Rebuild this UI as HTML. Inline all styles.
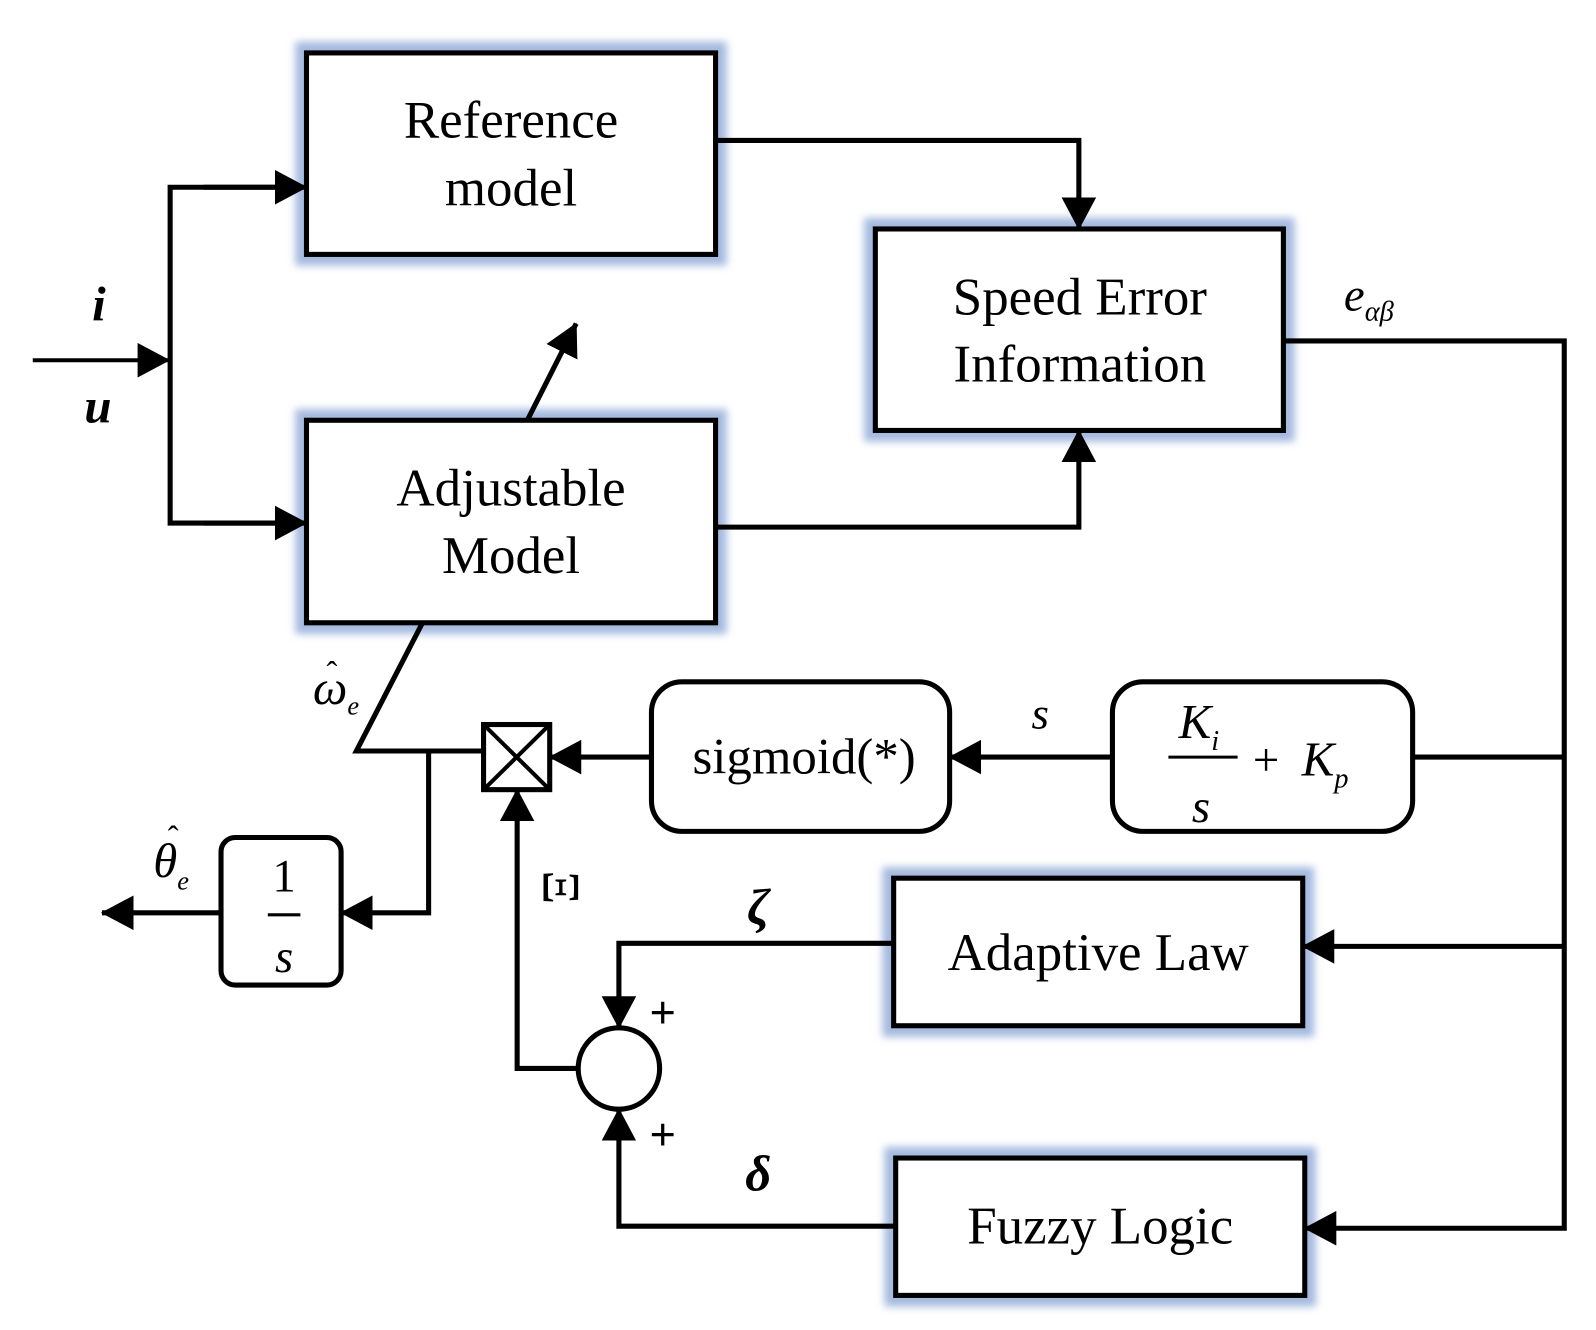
<!DOCTYPE html>
<html><head><style>html,body{margin:0;padding:0;background:#fff}svg{display:block}</style></head>
<body>
<svg width="1596" height="1330" viewBox="0 0 1568 1307" xmlns="http://www.w3.org/2000/svg" style="font-family:'Liberation Serif',serif">
<defs>
<filter id="g" x="-10%" y="-20%" width="120%" height="140%"><feGaussianBlur stdDeviation="4"/></filter>
<marker id="a" markerWidth="32" markerHeight="34" refX="31" refY="17" orient="auto" markerUnits="userSpaceOnUse" viewBox="0 0 32 34"><path d="M0,0 L32,17 L0,34z" fill="#000"/></marker>
</defs>
<g fill="none" stroke="#a4b9df" stroke-width="22" filter="url(#g)">
<rect x="301" y="52" width="402" height="198"/>
<rect x="301" y="413" width="402" height="199"/>
<rect x="860" y="225" width="401" height="198"/>
<rect x="878" y="863" width="402" height="145"/>
<rect x="880" y="1138" width="402" height="135"/>
</g>
<g fill="#fff" stroke="#000" stroke-width="5">
<rect x="301" y="52" width="402" height="198"/>
<rect x="301" y="413" width="402" height="199"/>
<rect x="860" y="225" width="401" height="198"/>
<rect x="878" y="863" width="402" height="145"/>
<rect x="880" y="1138" width="402" height="135"/>
<rect x="640" y="670" width="293" height="147" rx="30"/>
<rect x="1093" y="670" width="295" height="147" rx="30"/>
<rect x="217" y="823" width="118" height="145" rx="14"/>
<rect x="475" y="712" width="65" height="64"/>
<circle cx="608" cy="1050" r="40"/>
</g>
<g stroke="#000" stroke-width="5" fill="none">
<line x1="475" y1="712" x2="540" y2="776" stroke-width="4"/><line x1="540" y1="712" x2="475" y2="776" stroke-width="4"/>
<line x1="32" y1="354" x2="166" y2="354" marker-end="url(#a)" stroke-width="4"/>
<polyline points="280,184 167,184 167,514 280,514"/>
<line x1="200" y1="184" x2="301" y2="184" marker-end="url(#a)"/>
<line x1="200" y1="514" x2="301" y2="514" marker-end="url(#a)"/>
<polyline points="703,138 1060,138 1060,225" marker-end="url(#a)"/>
<polyline points="703,518 1060,518 1060,423" marker-end="url(#a)"/>
<polyline points="1261,335 1537,335 1537,1207 1282,1207" marker-end="url(#a)"/>
<line x1="1537" y1="930" x2="1280" y2="930" marker-end="url(#a)"/>
<line x1="1537" y1="744" x2="1388" y2="744"/>
<line x1="1093" y1="744" x2="933" y2="744" marker-end="url(#a)"/>
<line x1="640" y1="744" x2="540" y2="744" marker-end="url(#a)"/>
<line x1="518" y1="413" x2="566" y2="318" marker-end="url(#a)"/>
<polyline points="415,612 350,738 475,738"/>
<polyline points="421,738 421,897 335,897" marker-end="url(#a)"/>
<line x1="217" y1="897" x2="100" y2="897" marker-end="url(#a)"/>
<polyline points="568,1050 508,1050 508,776" marker-end="url(#a)"/>
<polyline points="880,927 608,927 608,1010" marker-end="url(#a)"/>
<polyline points="880,1205 608,1205 608,1090" marker-end="url(#a)"/>
<line x1="263" y1="899" x2="295" y2="899" stroke-width="3"/>
<line x1="1148" y1="744" x2="1216" y2="744" stroke-width="3"/>
</g>
<g fill="#000" font-size="52" text-anchor="middle">
<text x="502" y="135">Reference</text>
<text x="502" y="202">model</text>
<text x="502" y="497">Adjustable</text>
<text x="502" y="563">Model</text>
<text x="1061" y="309">Speed Error</text>
<text x="1061" y="375">Information</text>
<text x="1079" y="953">Adaptive Law</text>
<text x="1081" y="1222">Fuzzy Logic</text>
<text x="790" y="760" font-size="50">sigmoid(*)</text>
<text x="279" y="876" font-size="46">1</text>
<text x="279" y="955" font-size="46" font-style="italic">s</text>
<text x="1178" y="725" font-size="48" font-style="italic">K<tspan font-size="28" dy="12">i</tspan></text>
<text x="1180" y="808" font-size="46" font-style="italic">s</text>
<text x="1244" y="762" font-size="46">+</text>
<text x="1302" y="762" font-size="48" font-style="italic">K<tspan font-size="28" dy="12">p</tspan></text>
<text x="1022" y="716" font-size="44" font-style="italic">s</text>
<text x="1345" y="305" font-size="46" font-style="italic">e<tspan font-size="28" dy="10">αβ</tspan></text>
<text x="97" y="315" font-size="48" font-style="italic" font-weight="bold">i</text>
<text x="96" y="415" font-size="48" font-style="italic" font-weight="bold">u</text>
<text x="330" y="692" font-size="48" font-style="italic">ω<tspan font-size="26" dy="10">e</tspan></text>
<text x="326" y="672" font-size="32">ˆ</text>
<text x="168" y="862" font-size="48" font-style="italic">θ<tspan font-size="26" dy="12">e</tspan></text>
<text x="170" y="834" font-size="32">ˆ</text>
<text x="745" y="908" font-size="50" font-style="italic" font-weight="bold">ζ</text>
<text x="745" y="1170" font-size="50" font-style="italic" font-weight="bold">δ</text>
<text x="651" y="1010" font-size="46" font-weight="bold">+</text>
<text x="651" y="1130" font-size="46" font-weight="bold">+</text>
<text x="0" y="0" font-size="52" text-anchor="middle" transform="translate(534,872) rotate(90)">Ξ</text>
</g>
</svg>
</body></html>
